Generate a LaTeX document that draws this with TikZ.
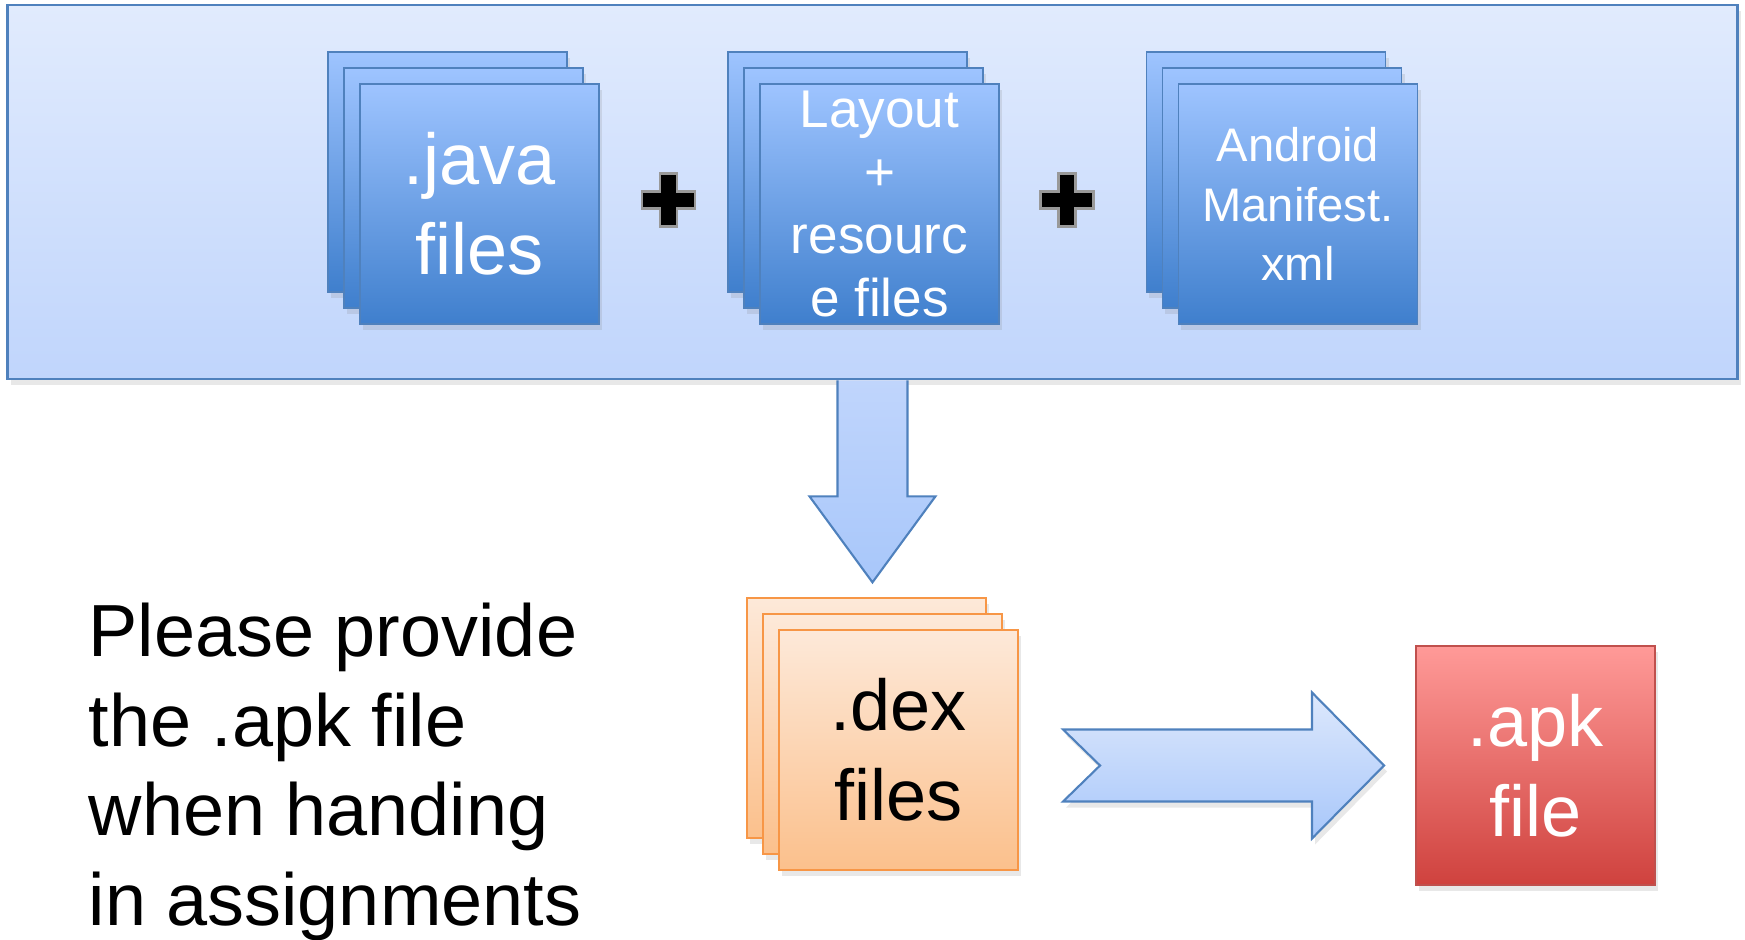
\documentclass[tikz,border=0pt]{standalone}
\usepackage{fontspec}
\setmainfont{Liberation Sans}
\usetikzlibrary{shadows}

\definecolor{boxtop}{RGB}{225,235,253}
\definecolor{boxbot}{RGB}{192,213,252}
\definecolor{blueline}{RGB}{79,129,189}
\definecolor{pagetop}{RGB}{158,196,255}
\definecolor{pagebot}{RGB}{63,127,205}
\definecolor{dextop}{RGB}{253,233,217}
\definecolor{dexbot}{RGB}{251,192,140}
\definecolor{dexline}{RGB}{247,150,70}
\definecolor{apktop}{RGB}{255,154,152}
\definecolor{apkbot}{RGB}{207,66,62}
\definecolor{apkline}{RGB}{192,80,77}
\definecolor{arrtop}{RGB}{221,232,252}
\definecolor{arrbot}{RGB}{168,199,250}

\tikzset{
  softshadow/.style={drop shadow={opacity=0.18,shadow xshift=0.03cm,shadow yshift=-0.06cm}},
  page/.style={draw=blueline,line width=0.5pt,top color=pagetop,bottom color=pagebot,
    minimum width=2.39cm,minimum height=2.40cm,inner sep=0pt,text=white,align=center,softshadow},
  dexpage/.style={page,draw=dexline,top color=dextop,bottom color=dexbot,text=black},
  plusmark/.style={fill=black,draw=black!40,line width=0.6pt},
  blockarrow/.style={draw=blueline,line width=0.6pt,line join=miter}
}

\begin{document}
\begin{tikzpicture}[x=0.01cm,y=-0.01cm]
  \useasboundingbox (0,0) rectangle (1745,940);
  % build inputs
  \node[draw=blueline,line width=0.7pt,top color=boxtop,bottom color=boxbot,
    minimum width=17.29cm,minimum height=3.74cm,softshadow] (build) at (872.5,192) {};
  \node[page] (java3) at (447.5,172) {};
  \node[page] (java2) at (463.5,188) {};
  \node[page,font=\fontsize{20.5}{25.6}\selectfont] (java1) at (479.5,204) {.java\\files};
  \coordinate (plus1) at (668.5,200);
  \node[page] (layout3) at (847.5,172) {};
  \node[page] (layout2) at (863.5,188) {};
  \node[page,font=\fontsize{15.1}{17.9}\selectfont] (layout1) at (879.5,204) {Layout\\+\\resourc\\e files};
  \coordinate (plus2) at (1067,200);
  \node[page] (manifest3) at (1266,172) {};
  \node[page] (manifest2) at (1282,188) {};
  \node[page,font=\fontsize{13.4}{16.8}\selectfont] (manifest1) at (1298,204) {Android\\Manifest.\\xml};

  % plus signs
  \foreach \p in {plus1,plus2}
    \draw[plusmark] (\p) ++(-8.5,-26.5) -- ++(17,0) -- ++(0,18) -- ++(18,0) -- ++(0,17) -- ++(-18,0)
      -- ++(0,18) -- ++(-17,0) -- ++(0,-18) -- ++(-18,0) -- ++(0,-17) -- ++(18,0) -- cycle;

  % outputs
  \node[dexpage] (dex3) at (866.5,718) {};
  \node[dexpage] (dex2) at (882.5,734) {};
  \node[dexpage,font=\fontsize{20.5}{25.6}\selectfont] (dex1) at (898.5,750) {.dex\\files};
  \node[draw=apkline,line width=0.5pt,top color=apktop,bottom color=apkbot,minimum width=2.39cm,
    minimum height=2.39cm,inner sep=0pt,text=white,align=center,softshadow,
    font=\fontsize{20.5}{25.6}\selectfont] (apk) at (1535.5,765.5) {.apk\\file};
  \node[anchor=west,align=left,inner sep=0pt,font=\fontsize{21}{25.5}\selectfont] (note) at (88,772)
    {Please provide\\the .apk file\\when handing\\in assignments};

  % arrows
  \draw[blockarrow,top color=boxbot,bottom color=arrbot] ([xshift=-0.35cm]build.south) -- ++(0,116) -- ++(-28,0)
    -- ++(63,86) -- ++(63,-86) -- ++(-28,0) -- ++(0,-116);
  \draw[blockarrow,top color=arrtop,bottom color=arrbot,softshadow] ([xshift=-0.31cm]apk.west) -- ++(-72,-73)
    -- ++(0,37) -- ++(-249,0) -- ++(37,36) -- ++(-37,36) -- ++(249,0) -- ++(0,37) -- cycle;
\end{tikzpicture}
\end{document}
